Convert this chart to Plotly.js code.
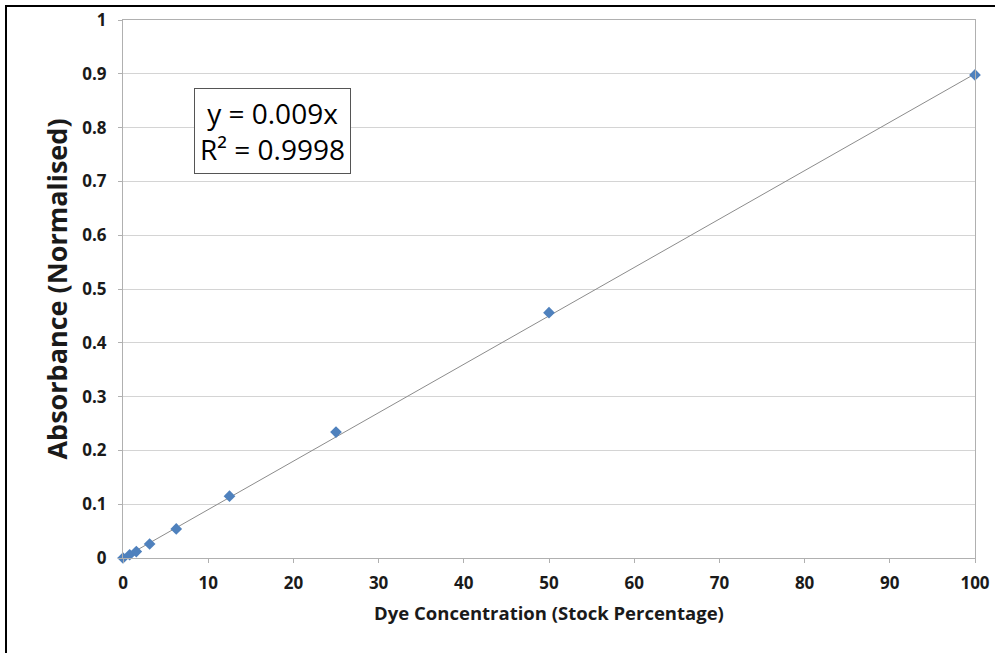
<!DOCTYPE html>
<html>
<head>
<meta charset="utf-8">
<script src="https://cdn.plot.ly/plotly-3.0.1.min.js"></script>
<style>
html,body{margin:0;padding:0;background:#fff;}
#wrap{position:relative;width:995px;height:653px;}
#chart{width:995px;height:653px;}
#frame{position:absolute;left:5px;top:5px;right:-10px;bottom:-10px;border-left:2px solid #000;border-top:2px solid #000;pointer-events:none;}
</style>
</head>
<body>
<div id="wrap"><div id="chart"></div><div id="frame"></div></div>
<script>
// Data
var concentration = [0, 0.78125, 1.5625, 3.125, 6.25, 12.5, 25, 50, 100];
var absorbance = [0, 0.006, 0.012, 0.026, 0.054, 0.115, 0.234, 0.456, 0.898];
var trendX = [0, 100];
var trendY = [0, 0.9];
var xTicks = [0, 10, 20, 30, 40, 50, 60, 70, 80, 90, 100];
var yTicks = [0, 0.1, 0.2, 0.3, 0.4, 0.5, 0.6, 0.7, 0.8, 0.9, 1];
var yTickText = ["0", "0.1", "0.2", "0.3", "0.4", "0.5", "0.6", "0.7", "0.8", "0.9", "1"];
var equationText = "y = 0.009x<br>R² = 0.9998";

var FONT = "'Open Sans', sans-serif";

var traces = [
  {
    x: trendX, y: trendY, mode: "lines", type: "scatter",
    line: {color: "#8c8c8c", width: 1}, hoverinfo: "skip", showlegend: false
  },
  {
    x: concentration, y: absorbance, mode: "markers", type: "scatter",
    marker: {symbol: "diamond", size: 9, color: "#4F81BD"}, showlegend: false, cliponaxis: false
  }
];

var layout = {
  width: 995, height: 653,
  margin: {l: 123, r: 20, t: 20, b: 95},
  paper_bgcolor: "#fff", plot_bgcolor: "#fff",
  showlegend: false,
  font: {family: FONT, color: "#000"},
  xaxis: {
    range: [0, 100], tickvals: xTicks, ticktext: xTicks.map(String),
    showgrid: false, zeroline: false,
    showline: true, linecolor: "#b0b0b0", linewidth: 1, mirror: true,
    ticks: "outside", ticklen: 4, tickcolor: "#b0b0b0",
    ticklabelstandoff: 6,
    tickfont: {family: FONT, size: 17, weight: "bold", color: "#1a1a1a"},
    title: {text: "Dye Concentration (Stock Percentage)", standoff: 13,
            font: {family: FONT, size: 18.5, weight: "bold", color: "#1a1a1a"}}
  },
  yaxis: {
    range: [0, 1], tickvals: yTicks, ticktext: yTickText,
    showgrid: true, gridcolor: "#d4d4d4", gridwidth: 1, zeroline: false,
    showline: true, linecolor: "#b0b0b0", linewidth: 1, mirror: true,
    ticks: "outside", ticklen: 4, tickcolor: "#b0b0b0",
    ticklabelstandoff: 8,
    tickfont: {family: FONT, size: 17, weight: "bold", color: "#1a1a1a"},
    title: {text: "Absorbance (Normalised)", standoff: 6,
            font: {family: FONT, size: 27, weight: "bold", color: "#1a1a1a"}}
  },
  annotations: [{
    x: 17.6, y: 0.793, xref: "x", yref: "y", text: equationText,
    showarrow: false, align: "center",
    font: {family: FONT, size: 28, color: "#000"},
    bordercolor: "#555", borderwidth: 1, borderpad: 5, bgcolor: "#fff"
  }]
};

Plotly.newPlot("chart", traces, layout, {displayModeBar: false, staticPlot: true});
</script>
</body>
</html>
